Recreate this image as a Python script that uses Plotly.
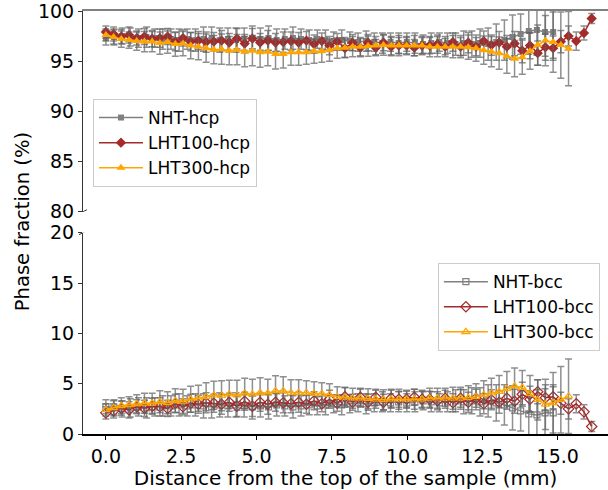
import plotly.graph_objects as go

# measurement positions (mm)
x_lht = [0, 0.256, 0.512, 0.768, 1.024, 1.28, 1.536, 1.792, 2.048, 2.304, 2.56, 2.816, 3.072, 3.328,
         3.584, 3.84, 4.096, 4.352, 4.608, 4.864, 5.12, 5.376, 5.632, 5.888, 6.144, 6.4, 6.656, 6.912,
         7.168, 7.424, 7.68, 7.936, 8.192, 8.448, 8.704, 8.96, 9.216, 9.472, 9.728, 9.984, 10.24, 10.496,
         10.752, 11.008, 11.264, 11.52, 11.776, 12.032, 12.288, 12.544, 12.8, 13.056, 13.312, 13.568,
         13.824, 14.08, 14.336, 14.592, 14.848, 15.104, 15.36, 15.616, 15.872, 16.128]
x_nht = [0, 0.27, 0.54, 0.81, 1.08, 1.35, 1.62, 1.89, 2.16, 2.43, 2.7, 2.97, 3.24, 3.51, 3.78, 4.05,
         4.32, 4.59, 4.86, 5.13, 5.4, 5.67, 5.94, 6.21, 6.48, 6.75, 7.02, 7.29, 7.56, 7.83, 8.1, 8.37,
         8.64, 8.91, 9.18, 9.45, 9.72, 9.99, 10.26, 10.53, 10.8, 11.07, 11.34, 11.61, 11.88, 12.15, 12.42,
         12.69, 12.96, 13.23, 13.5, 13.77, 14.04, 14.31, 14.58, 14.85]
x_lht100 = x_lht
x_lht300 = x_lht[:61]

# NHT
nht_hcp = [97.3, 97.4, 97.5, 97.4, 97.3, 97.4, 97.3, 97.2,
           97.2, 97.1, 97.2, 97.1, 97.2, 97.3, 97.1, 97.2, 97.1, 97.2, 97.3,
           97.2, 97.3, 97.1, 97.2, 97.3, 97.2, 97.1, 97.2, 97.1, 97.0, 97.1, 97.0,
           96.9, 97.0, 96.9, 96.8, 96.9, 96.8, 96.9, 96.8, 96.7, 96.8, 96.9, 96.8, 96.7, 96.8, 96.7,
           96.8, 96.7, 96.9, 97.1, 97.4, 97.7, 98.0, 98.1, 97.9, 97.9]
nht_bcc = [2.7, 2.6, 2.5, 2.6, 2.7, 2.6, 2.7, 2.8,
           2.8, 2.9, 2.8, 2.9, 2.8, 2.7, 2.9, 2.8, 2.9, 2.8, 2.7,
           2.8, 2.7, 2.9, 2.8, 2.7, 2.8, 2.9, 2.8, 2.9, 3.0, 2.9, 3.0,
           3.1, 3.0, 3.1, 3.2, 3.1, 3.2, 3.1, 3.2, 3.3, 3.2, 3.1, 3.2, 3.3, 3.2, 3.3,
           3.2, 3.3, 3.1, 2.9, 2.6, 2.3, 2.0, 1.9, 2.1, 2.1]
nht_err = [0.7, 0.8, 0.8, 0.9, 0.9, 1.0, 0.9, 1.0,
           1.0, 1.1, 1.0, 1.1, 1.2, 1.1, 1.2, 1.1, 1.2, 1.1, 1.2,
           1.1, 1.2, 1.1, 1.0, 1.1, 1.0, 1.0, 0.9, 1.0, 0.9, 1.0, 0.9,
           0.9, 1.0, 0.9, 1.0, 0.9, 1.0, 0.9, 1.0, 0.9, 1.0, 0.9, 1.0, 1.1, 1.2, 1.3,
           1.4, 1.6, 1.8, 2.0, 2.2, 2.0, 2.3, 2.5, 2.4, 2.6]

# LHT100
lht100_hcp = [97.9, 97.7, 97.45, 97.6, 97.3, 97.45, 97.25, 97.3, 97.45, 96.95, 97.3, 96.95, 97.05, 96.9,
              96.95, 97.05, 96.85, 97.25, 96.75, 97.25,
              96.85, 97.05, 96.85, 96.9, 97.0, 96.85, 97.05, 96.7, 97.0, 96.55, 96.95, 96.3, 96.85, 96.35,
              96.85, 96.35, 96.85, 96.45, 96.55, 96.55, 96.35, 96.55,
              96.55, 96.7, 96.45, 96.9, 96.45, 96.85, 96.45, 97.0, 96.6, 96.85, 96.45, 96.75, 96.05, 96.55,
              95.8, 96.4, 96.3, 96.95, 97.5, 97.0, 97.8, 99.25]
lht100_bcc = [2.1, 2.3, 2.55, 2.4, 2.7, 2.55, 2.75, 2.7, 2.55, 3.05, 2.7, 3.05, 2.95, 3.1, 3.05, 2.95,
              3.15, 2.75, 3.25, 2.75,
              3.15, 2.95, 3.15, 3.1, 3.0, 3.15, 2.95, 3.3, 3.0, 3.45, 3.05, 3.7, 3.15, 3.65, 3.15, 3.65,
              3.15, 3.55, 3.45, 3.45, 3.65, 3.45,
              3.45, 3.3, 3.55, 3.1, 3.55, 3.15, 3.55, 3.0, 3.4, 3.15, 3.55, 3.25, 3.95, 3.45, 4.2, 3.6,
              3.7, 3.05, 2.5, 3.0, 2.2, 0.75]
lht100_err = [0.6, 0.7, 0.7, 0.8, 0.7, 0.8, 0.8, 0.9, 0.8, 0.9, 0.8, 0.9, 0.9, 1.0, 0.9, 1.0, 0.9, 1.0,
              0.9, 1.0,
              0.9, 1.0, 0.9, 1.0, 0.9, 1.0, 0.9, 0.9, 0.8, 0.9, 0.8, 0.9, 0.8, 0.9, 0.8, 0.8, 0.8, 0.9,
              0.8, 0.8, 0.8, 0.8,
              0.8, 0.9, 0.8, 0.9, 0.9, 1.0, 0.9, 1.0, 1.0, 1.1, 1.1, 1.2, 1.2, 1.3, 1.2, 1.3, 1.2, 1.1,
              1.0, 0.9, 0.7, 0.5]

# LHT300
lht300_hcp = [97.6, 97.4, 97.2, 97.1, 97.0, 96.95, 96.95, 96.8, 96.9, 96.7, 96.75, 96.55, 96.45, 96.3,
              96.15, 96.2, 96.05, 96.15, 95.95, 96.05,
              95.9, 95.95, 95.72, 95.72, 95.9, 95.9, 95.9, 96.0, 96.0, 96.1, 96.3, 96.35, 96.45, 96.45,
              96.5, 96.55, 96.6, 96.55, 96.55, 96.55, 96.55, 96.55,
              96.45, 96.45, 96.45, 96.45, 96.45, 96.4, 96.3, 96.1, 95.95, 95.8, 95.5, 95.25, 95.4, 96.0,
              96.6, 97.05, 96.9, 96.6, 96.25]
lht300_bcc = [2.4, 2.6, 2.8, 2.9, 3.0, 3.05, 3.05, 3.2, 3.1, 3.3, 3.25, 3.45, 3.55, 3.7, 3.85, 3.8,
              3.95, 3.85, 4.05, 3.95,
              4.1, 4.05, 4.28, 4.28, 4.1, 4.1, 4.1, 4.0, 4.0, 3.9, 3.7, 3.65, 3.55, 3.55, 3.5, 3.45, 3.4,
              3.45, 3.45, 3.45, 3.45, 3.45,
              3.55, 3.55, 3.55, 3.55, 3.55, 3.6, 3.7, 3.9, 4.05, 4.2, 4.5, 4.75, 4.6, 4.0, 3.4, 2.95,
              3.1, 3.4, 3.75]
lht300_err = [0.6, 0.7, 0.8, 0.8, 0.9, 1.0, 1.0, 1.1, 1.1, 1.2, 1.2, 1.3, 1.3, 1.4, 1.4, 1.5, 1.4, 1.5,
              1.5, 1.5,
              1.5, 1.4, 1.5, 1.4, 1.3, 1.3, 1.2, 1.2, 1.1, 1.1, 1.0, 1.0, 1.0, 0.9, 1.0, 0.9, 1.0, 0.9,
              1.0, 0.9, 1.0, 0.9,
              1.0, 1.0, 1.0, 1.1, 1.1, 1.2, 1.3, 1.4, 1.5, 1.6, 1.7, 1.8, 1.7, 1.8, 2.0, 2.5, 3.0, 3.3, 3.7]

GRAY = "#808080"
BROWN = "#a52a2a"
ORANGE = "#ffa500"
ECOL = "rgba(95,95,95,0.7)"
FONT = "DejaVu Sans"


def err(a):
    return dict(type="data", array=a, color=ECOL, thickness=1.5, width=3.5)


fig = go.Figure()

top = [
    ("NHT-hcp", x_nht, nht_hcp, nht_err, GRAY, "square", 6),
    ("LHT100-hcp", x_lht100, lht100_hcp, lht100_err, BROWN, "diamond", 8),
    ("LHT300-hcp", x_lht300, lht300_hcp, lht300_err, ORANGE, "triangle-up", 8),
]
for name, xx, yy, ee, col, sym, sz in top:
    fig.add_trace(go.Scatter(
        x=xx, y=yy, name=name, mode="lines+markers", xaxis="x2", yaxis="y2",
        line=dict(color=col, width=1.5),
        marker=dict(symbol=sym, size=sz, color=col),
        error_y=err(ee), legend="legend"))

bot = [
    ("NHT-bcc", x_nht, nht_bcc, nht_err, GRAY, "square-open", 6),
    ("LHT100-bcc", x_lht100, lht100_bcc, lht100_err, BROWN, "diamond-open", 8),
    ("LHT300-bcc", x_lht300, lht300_bcc, lht300_err, ORANGE, "triangle-up-open", 7),
]
for name, xx, yy, ee, col, sym, sz in bot:
    fig.add_trace(go.Scatter(
        x=xx, y=yy, name=name, mode="lines+markers", xaxis="x", yaxis="y",
        line=dict(color=col, width=1.5),
        marker=dict(symbol=sym, size=sz, color=col, line=dict(color=col, width=1.2)),
        error_y=err(ee), legend="legend2"))

xr = [-0.76, 16.67]
tickfont = dict(family=FONT, size=19, color="black")

fig.update_layout(
    width=608, height=490,
    margin=dict(l=83, r=0, t=11, b=56),
    plot_bgcolor="white", paper_bgcolor="white",
    font=dict(family=FONT, size=19, color="black"),
    xaxis=dict(domain=[0, 1], anchor="y", range=xr, tickvals=[0, 2.5, 5, 7.5, 10, 12.5, 15],
               tickformat=".1f", ticks="outside", ticklen=4, tickcolor="black",
               showline=True, linecolor="black", linewidth=1.5, showgrid=False, zeroline=False,
               tickfont=tickfont,
               title=dict(text="Distance from the top of the sample (mm)", font=dict(family=FONT, size=20),
                          standoff=2)),
    xaxis2=dict(domain=[0, 1], anchor="y2", matches="x", range=xr, side="top", showticklabels=False,
                ticks="", showline=True, linecolor="#808080", linewidth=2, showgrid=False,
                zeroline=False),
    yaxis=dict(domain=[0, 0.4759], anchor="x", range=[0, 20], tickvals=[0, 5, 10, 15, 20],
               ticks="outside", ticklen=4, tickcolor="#333", showline=True, linecolor="#333",
               linewidth=1, showgrid=False, zeroline=False, tickfont=tickfont,
               ticklabeloverflow="allow"),
    yaxis2=dict(domain=[0.5255, 1], anchor="x2", range=[80, 100], tickvals=[80, 85, 90, 95, 100],
                ticks="outside", ticklen=4, tickcolor="#333", showline=True, linecolor="#333",
                linewidth=1, showgrid=False, zeroline=False, tickfont=tickfont,
                ticklabeloverflow="allow"),
    legend=dict(x=0.019, y=0.792, xanchor="left", yanchor="top", bgcolor="white",
                bordercolor="#cccccc", borderwidth=1, font=dict(family=FONT, size=17),
                itemwidth=44, tracegroupgap=0),
    legend2=dict(x=0.676, y=0.404, xanchor="left", yanchor="top", bgcolor="white",
                 bordercolor="#cccccc", borderwidth=1, font=dict(family=FONT, size=17),
                 itemwidth=44, tracegroupgap=0),
    showlegend=True,
)

fig.add_annotation(text="Phase fraction (%)", xref="paper", yref="paper", x=-0.116, y=0.501,
                   textangle=-90, showarrow=False, font=dict(family=FONT, size=19.5),
                   xanchor="center", yanchor="middle")

# axis-break marks on the left spine
for yref, yv in (("y2", 80), ("y", 20)):
    fig.add_shape(type="line", xref="paper", yref=yref, xsizemode="pixel", ysizemode="pixel",
                  xanchor=0, yanchor=yv, x0=-4, x1=4, y0=-2, y1=2,
                  line=dict(color="#333", width=1))

fig.write_html("out.html", config={"displayModeBar": False},
               post_script="document.body.style.margin='0';document.body.style.overflow='hidden';")
